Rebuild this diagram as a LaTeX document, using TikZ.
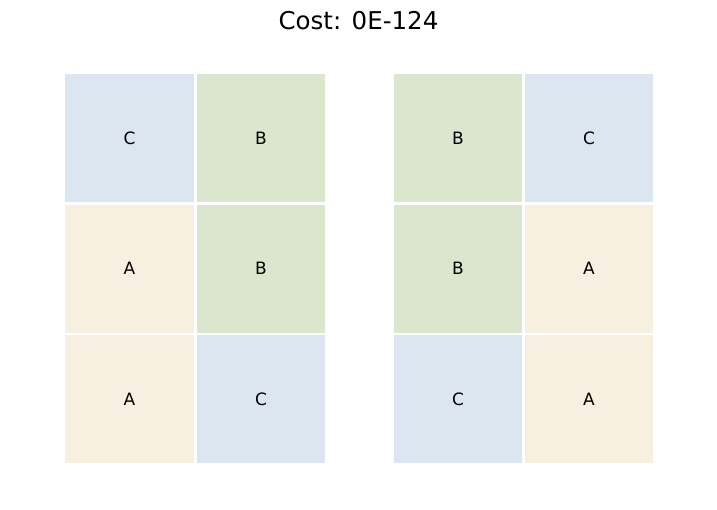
\documentclass[tikz,border=0pt]{standalone}
\usepackage{fontspec}
\setmainfont{DejaVu Sans}
\definecolor{cblue}{RGB}{219,230,240}
\definecolor{cgreen}{RGB}{219,230,206}
\definecolor{ctan}{RGB}{247,239,223}
\begin{document}
\begin{tikzpicture}[x=1pt,y=-1pt,
  cell/.style={minimum width=128.5pt,minimum height=128pt,inner sep=0pt,draw=none,font=\fontsize{17}{19}\selectfont},
  cellA/.style={cell,fill=ctan},
  cellB/.style={cell,fill=cgreen},
  cellC/.style={cell,fill=cblue}]
\useasboundingbox (0,0) rectangle (717,509);
\node[font=\fontsize{24.5}{28}\selectfont] (title) at (358.5,21) {Cost: 0E-124};
% left grid
\node[cellC] (l11) at (129.5,138) {C};
\node[cellB] (l12) at (261,138) {B};
\node[cellA] (l21) at (129.5,268.5) {A};
\node[cellB] (l22) at (261,268.5) {B};
\node[cellA] (l31) at (129.5,399) {A};
\node[cellC] (l32) at (261,399) {C};
% right grid
\node[cellB] (r11) at (458,138) {B};
\node[cellC] (r12) at (589,138) {C};
\node[cellB] (r21) at (458,268.5) {B};
\node[cellA] (r22) at (589,268.5) {A};
\node[cellC] (r31) at (458,399) {C};
\node[cellA] (r32) at (589,399) {A};
\end{tikzpicture}
\end{document}
